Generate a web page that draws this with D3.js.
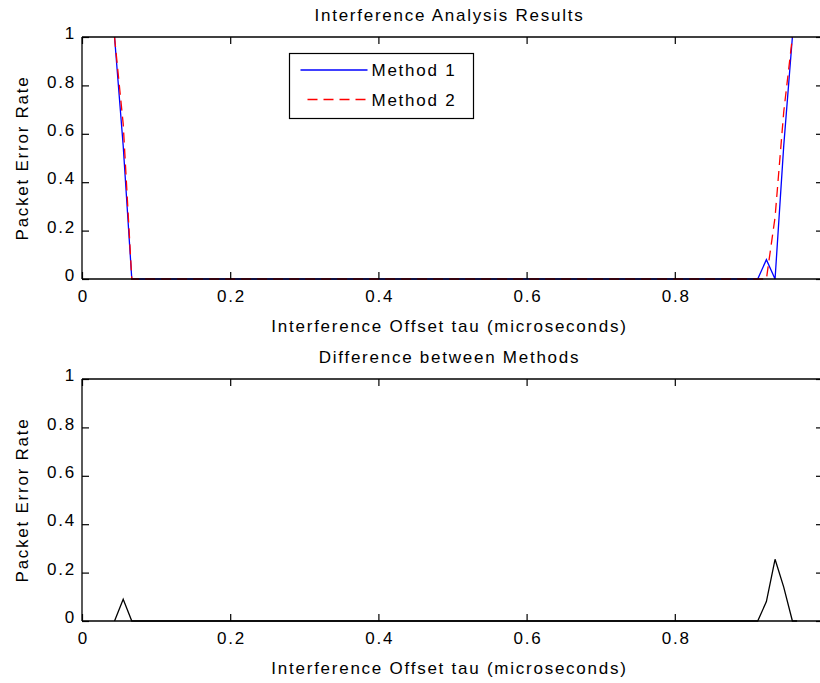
<!DOCTYPE html>
<html>
<head>
<meta charset="utf-8">
<script src="https://cdn.jsdelivr.net/npm/d3@7/dist/d3.min.js"></script>
<style>
  html, body { margin: 0; padding: 0; background: #fff; }
  svg { display: block; }
  text { font-family: "Liberation Sans", Arial, Helvetica, sans-serif; font-size: 17px; letter-spacing: 1.75px; fill: #000; }
</style>
</head>
<body>
<script>
// ---- data ----
const xTicks = [0, 0.2, 0.4, 0.6, 0.8];
const yTicks = [0, 0.2, 0.4, 0.6, 0.8, 1];
const xTickLabels = ["0", "0.2", "0.4", "0.6", "0.8"];
const yTickLabels = ["0", "0.2", "0.4", "0.6", "0.8", "1"];

const tauMethod1 = [0.0439, 0.0556, 0.0672, 0.9119, 0.9236, 0.9353, 0.9470, 0.9587];
const perMethod1 = [1.00,   0.55,   0.00,   0.00,   0.08,   0.00,   0.55,   1.00];

const tauMethod2 = [0.0439, 0.0556, 0.0672, 0.9236, 0.9353, 0.9470, 0.9587];
const perMethod2 = [1.00,   0.64,   0.00,   0.00,   0.255,  0.69,   1.00];

const tauDiff = [0.0439, 0.0556, 0.0672, 0.9119, 0.9236, 0.9353, 0.9470, 0.9587, 0.9650];
const perDiff = [0.00,   0.09,   0.00,   0.00,   0.08,   0.255,  0.14,   0.00,   0.00];

const seriesNames = ["Method 1", "Method 2"];
const titles = ["Interference Analysis Results", "Difference between Methods"];
const xLabel = "Interference Offset tau (microseconds)";
const yLabel = "Packet Error Rate";

// ---- layout ----
const W = 820, H = 683;
const left = 82, right = 823;
const panels = [{ top: 37, bottom: 279 }, { top: 379, bottom: 621 }];
const tickLen = 7;

const svg = d3.select("body").append("svg").attr("width", W).attr("height", H);

const x = d3.scaleLinear().domain([0, 1]).range([left, right]);

function drawPanel(i, seriesList, legend) {
  const p = panels[i];
  const y = d3.scaleLinear().domain([0, 1]).range([p.bottom, p.top]);
  const g = svg.append("g");

  const clipId = "clip" + i;
  svg.append("clipPath").attr("id", clipId).append("rect")
    .attr("x", left).attr("y", p.top - 1).attr("width", right - left).attr("height", p.bottom - p.top + 2);

  // data lines
  const line = d3.line().x(d => x(d[0])).y(d => y(d[1]));
  seriesList.forEach(s => {
    g.append("path")
      .attr("clip-path", `url(#${clipId})`)
      .attr("d", line(d3.zip(s.tau, s.val)))
      .attr("fill", "none")
      .attr("stroke", s.color)
      .attr("stroke-width", 1.3)
      .attr("stroke-dasharray", s.dash || null);
  });

  // axes box with inward ticks (MATLAB style)
  const axB = d3.axisBottom(x).tickValues(xTicks).tickSize(-tickLen).tickFormat((d, k) => xTickLabels[k]).tickPadding(12);
  const axT = d3.axisTop(x).tickValues(xTicks).tickSize(-tickLen).tickFormat("");
  const axL = d3.axisLeft(y).tickValues(yTicks).tickSize(-tickLen).tickFormat((d, k) => yTickLabels[k]).tickPadding(12);
  const axR = d3.axisRight(y).tickValues(yTicks).tickSize(-tickLen).tickFormat("");

  const gb = g.append("g").attr("transform", `translate(0,${p.bottom})`).call(axB);
  const gt = g.append("g").attr("transform", `translate(0,${p.top})`).call(axT);
  const gl = g.append("g").attr("transform", `translate(${left},0)`).call(axL);
  const gr = g.append("g").attr("transform", `translate(${right},0)`).call(axR);
  [gb, gt, gl, gr].forEach(a => {
    a.selectAll(".domain").attr("stroke", "#000").attr("stroke-width", 1.3);
    a.selectAll(".tick line").attr("stroke", "#000").attr("stroke-width", 1.2);
    a.selectAll("text").attr("font-family", null).attr("font-size", null);
  });
  gb.selectAll(".domain").attr("d", `M${left},0H${right}`);
  gt.selectAll(".domain").attr("d", `M${left},0H${right}`);
  gl.selectAll(".domain").attr("d", `M0,${p.top}V${p.bottom}`);
  gl.selectAll(".domain").attr("d", `M0,${p.top}V${p.bottom}`);
  gr.selectAll(".domain").attr("d", `M0,${p.top}V${p.bottom}`);
  gl.selectAll(".tick text").attr("dy", "0.1em").attr("x", -6);
  gb.selectAll(".tick text").attr("dy", "0.75em").attr("y", 10).attr("dx", "0.05em");

  // title, labels
  svg.append("text").attr("x", (left + right) / 2 - 3).attr("y", p.top - 16)
    .attr("text-anchor", "middle").text(titles[i]);
  svg.append("text").attr("x", (left + right) / 2 - 3).attr("y", p.bottom + 53)
    .attr("text-anchor", "middle").text(xLabel);
  svg.append("text")
    .attr("transform", `translate(28,${(p.top + p.bottom) / 2}) rotate(-90)`)
    .attr("text-anchor", "middle").text(yLabel);

  if (legend) {
    const lx = 289.5, ly = 53.5, lw = 184, lh = 65;
    const lg = svg.append("g");
    lg.append("rect").attr("x", lx).attr("y", ly).attr("width", lw).attr("height", lh)
      .attr("fill", "#fff").attr("stroke", "#000").attr("stroke-width", 1.2);
    seriesList.forEach((s, k) => {
      const yy = ly + 16.5 + k * 29.5;
      lg.append("line").attr("x1", lx + (s.dash ? 18 : 11)).attr("x2", lx + 78)
        .attr("y1", yy).attr("y2", yy)
        .attr("stroke", s.color).attr("stroke-width", 1.3)
        .attr("stroke-dasharray", s.dash || null);
      lg.append("text").attr("x", lx + 82).attr("y", yy).attr("dy", "0.36em").text(seriesNames[k]);
    });
  }
}

drawPanel(0, [
  { tau: tauMethod1, val: perMethod1, color: "#0000ff" },
  { tau: tauMethod2, val: perMethod2, color: "#ff0000", dash: "10,6" }
], true);

drawPanel(1, [
  { tau: tauDiff, val: perDiff, color: "#000000" }
], false);
</script>
</body>
</html>
